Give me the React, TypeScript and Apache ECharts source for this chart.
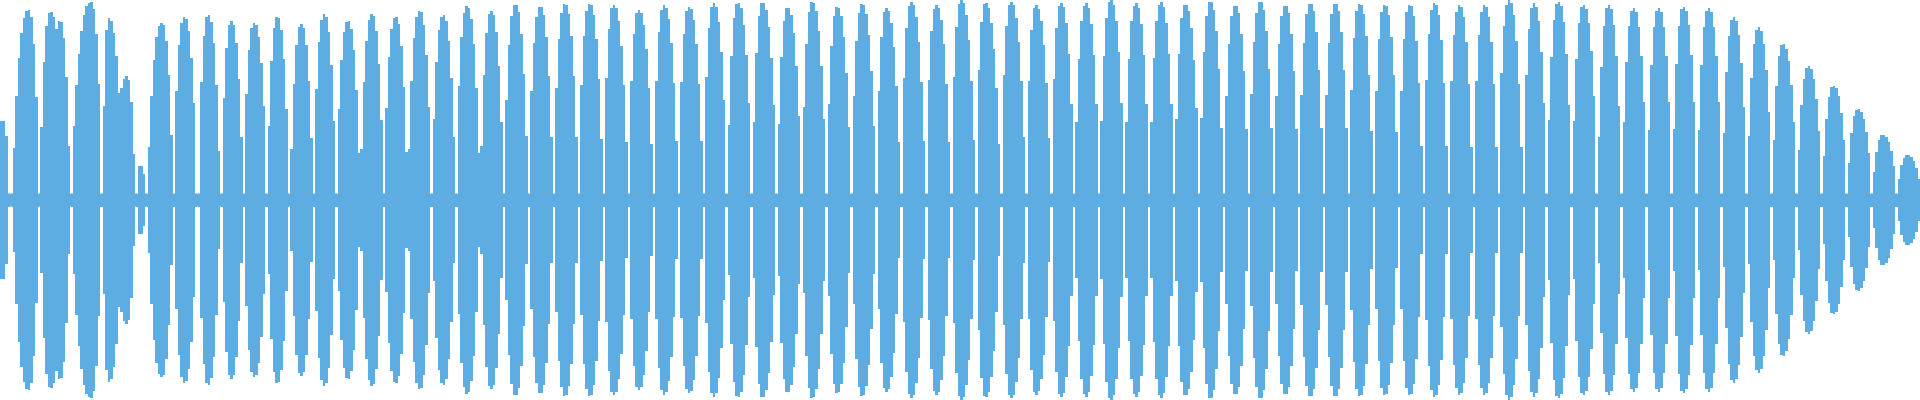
import React, { useEffect, useRef } from "react";
import * as echarts from "echarts";

// Waveform envelope: each lobe = onset, time of peak, offset, peak amplitude (0..1)
const onsets = [
  -3, 12, 39.5, 52, 70.5, 102.3, 113, 135.5, 147, 173, 198, 221, 243, 267, 290,
  313, 336, 360, 383.5, 407.5, 431.5, 455.5, 480, 503.5, 528,
  553, 578, 603, 628, 653, 678, 703, 727, 752, 777,
  801.5, 826.3, 851, 876, 900.5, 925.5, 950.5, 975.5,
  1000.5, 1025.7, 1050.7, 1074.3, 1099.3, 1124.3, 1149.3, 1174.3,
  1199.3, 1223.3, 1248.3, 1273.3, 1298.3, 1323.3, 1348.3, 1373.3,
  1398.3, 1422.7, 1447.7, 1472.7, 1497.7, 1522.7, 1546.7, 1571.7,
  1597.3, 1621.7, 1647, 1672, 1697, 1722, 1747, 1772, 1797, 1822, 1847, 1872, 1897,
];
const peakTimes = [
  2.3, 28.3, 50, 59.5, 90.7, 108.3, 126.7, 140, 161.7, 184, 208, 231, 254, 277, 301,
  324, 347.7, 371.7, 395.3, 419.3, 443, 466.7, 491, 515, 540,
  564.7, 589.3, 613.3, 638.3, 663.7, 688.7, 713.3, 737.7, 762.3, 787.3,
  812, 837, 862, 886, 911, 936, 961, 985,
  1010.7, 1035.7, 1060.7, 1085.7, 1110.7, 1135.7, 1160.7, 1185,
  1210, 1235, 1260, 1285, 1310, 1335, 1359.3, 1384.3,
  1409.3, 1434.3, 1459.3, 1484.3, 1508.7, 1533.7, 1558.3, 1583.3,
  1608.3, 1633.3, 1658.3, 1683.3, 1708.3, 1733.3, 1758.3, 1782.7, 1808.3, 1833.3, 1857.7, 1882.7, 1907.3,
];
const offsets = [
  9.5, 39, 66, 70, 102, 123, 135, 146, 173, 197, 220, 243, 267, 289, 313,
  336, 360, 383.5, 407.5, 431.5, 455.5, 480, 503.5, 528, 553,
  578, 603, 628, 653, 678, 703, 727, 752, 777, 801.5,
  826.3, 851, 876, 900.5, 925.5, 950.5, 975.5, 1000.5,
  1025.7, 1050.7, 1074.3, 1099.3, 1124.3, 1149.3, 1174.3, 1199.3,
  1223.3, 1248.3, 1273.3, 1298.3, 1323.3, 1348.3, 1373.3, 1398.3,
  1422.7, 1447.7, 1472.7, 1497.7, 1522.7, 1546.7, 1571.7, 1597.3,
  1621.7, 1647, 1672, 1697, 1722, 1747, 1772, 1797, 1822, 1847, 1872, 1897, 1921.2,
];
const peakAmps = [
  0.4, 0.95, 0.94, 0.9, 0.99, 0.91, 0.62, 0.175, 0.885, 0.915, 0.925, 0.895, 0.885, 0.915, 0.88,
  0.93, 0.895, 0.93, 0.917, 0.947, 0.925, 0.97, 0.947, 0.98, 0.967,
  0.98, 0.98, 0.975, 0.95, 0.975, 0.967, 0.983, 0.987, 0.987, 0.962,
  0.99, 0.965, 0.98, 0.96, 0.99, 0.975, 1.0, 0.985,
  0.992, 0.975, 0.987, 0.983, 1.0, 0.983, 0.988, 0.978,
  0.992, 0.975, 0.992, 0.975, 0.983, 0.983, 0.983, 0.978,
  0.978, 0.983, 0.975, 0.975, 1.0, 0.983, 0.992, 0.975,
  0.975, 0.958, 0.958, 0.967, 0.958, 0.913, 0.863, 0.78, 0.67, 0.572, 0.455, 0.325, 0.225,
];
const noiseFloor = 0.0325;
const timeRange = [0, 1920];
const sampleWidth = 2.5; // width of one waveform column, in time units

const WAVE_COLOR = "#5DADE2";

export default function App() {
  const ref = useRef<HTMLDivElement>(null);

  useEffect(() => {
    if (!ref.current) return;
    const chart = echarts.init(ref.current, null, { renderer: "svg" });
    const lobes = onsets.map((s, i) => [s, peakTimes[i], offsets[i], peakAmps[i]]);

    const env = (t: number, s: number, p: number, e: number, a: number) => {
      let d: number;
      if (t <= p) d = (p - t) / (p - s);
      else d = (t - p) / (e - p);
      d = Math.min(1, Math.max(0, d));
      return noiseFloor + (a - noiseFloor) * (1 - Math.pow(d, 2.5));
    };

    chart.setOption({
      animation: false,
      grid: { left: 0, right: 0, top: 0, bottom: 0 },
      xAxis: { type: "value", min: timeRange[0], max: timeRange[1], show: false },
      yAxis: { type: "value", min: -1, max: 1, show: false },
      series: [
        {
          type: "line",
          data: [[timeRange[0], noiseFloor], [timeRange[1], noiseFloor]],
          symbol: "none",
          lineStyle: { width: 0 },
          areaStyle: { color: WAVE_COLOR, opacity: 1 },
          silent: true,
        },
        {
          type: "line",
          data: [[timeRange[0], -noiseFloor], [timeRange[1], -noiseFloor]],
          symbol: "none",
          lineStyle: { width: 0 },
          areaStyle: { color: WAVE_COLOR, opacity: 1 },
          silent: true,
        },
        {
          type: "custom",
          clip: true,
          data: lobes,
          renderItem: (_params: any, api: any) => {
            const s = api.value(0);
            const p = api.value(1);
            const e = api.value(2);
            const a = api.value(3);
            const j0 = Math.floor(s / sampleWidth);
            const j1 = Math.ceil(e / sampleWidth);
            const top: number[][] = [];
            const bottom: number[][] = [];
            for (let j = j0; j < j1; j++) {
              const t0 = j * sampleWidth;
              const t1 = t0 + sampleWidth;
              const a0 = Math.max(t0, s);
              const a1 = Math.min(t1, e);
              if (a1 <= a0) continue;
              const full = t0 >= s && t1 <= e;
              const v = full ? env(t0 + sampleWidth / 2, s, p, e, a) : noiseFloor;
              const A = api.coord([a0, v]);
              const B = api.coord([a1, v]);
              const C = api.coord([a0, -v]);
              const D = api.coord([a1, -v]);
              const x0 = Math.round(A[0]);
              const x1 = Math.round(B[0]);
              top.push([x0, Math.round(A[1])], [x1, Math.round(B[1])]);
              bottom.push([x0, Math.round(C[1])], [x1, Math.round(D[1])]);
            }
            if (!top.length) return null;
            return {
              type: "polygon",
              shape: { points: top.concat(bottom.reverse()) },
              style: { fill: WAVE_COLOR },
            };
          },
        },
      ],
    });
    return () => chart.dispose();
  }, []);

  return (
    <div
      ref={ref}
      style={{ position: "absolute", left: 0, top: 0, width: 1920, height: 400 }}
    />
  );
}
